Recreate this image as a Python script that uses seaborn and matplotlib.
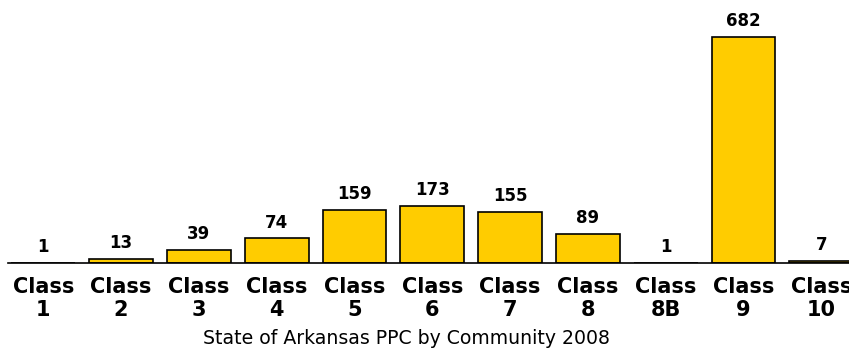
import matplotlib
matplotlib.use("Agg")
import matplotlib.pyplot as plt
import seaborn as sns
import pandas as pd
import numpy as np

categories = ["Class\n1", "Class\n2", "Class\n3", "Class\n4", "Class\n5", "Class\n6",
              "Class\n7", "Class\n8", "Class\n8B", "Class\n9", "Class\n10"]
counts = [1, 13, 39, 74, 159, 173, 155, 89, 1, 682, 7]
title = "State of Arkansas PPC by Community 2008"

df = pd.DataFrame({"cls": categories, "count": counts})

sns.set_style("white")
plt.rcParams["font.family"] = ["DejaVu Sans"]
plt.rcParams["text.color"] = "black"
plt.rcParams["xtick.color"] = "black"

W, H = 849, 348
fig = plt.figure(figsize=(W / 100, H / 100), dpi=100)
# axes runs slightly past the right edge of the canvas
left_px, slot_px, base_px, top_px = 4.4, 77.8, 263, 31
ax = fig.add_axes([left_px / W, 1 - base_px / H, 11 * slot_px / W, (base_px - top_px) / H])

sns.barplot(data=df, x="cls", y="count", color="#FFCC00", edgecolor="black",
            linewidth=1.2, width=0.82, saturation=1, ax=ax)

ax.set_xlim(-0.5, 10.5)
ax.set_ylim(0, 700)
for i, v in enumerate(counts):
    ax.annotate(str(v), (i, v), xytext=(0, 5), textcoords="offset points",
                ha="center", va="bottom", fontsize=12, fontweight="bold")

for s in ["top", "right", "left"]:
    ax.spines[s].set_visible(False)
ax.spines["bottom"].set_bounds(-0.45, 10.5)
ax.spines["bottom"].set_linewidth(1.2)
ax.spines["bottom"].set_color("black")
ax.set_yticks([])
ax.set_xlabel("")
ax.set_ylabel("")
ax.tick_params(axis="x", which="major", length=0, pad=10, labelsize=15, labelcolor="black")
for t in ax.get_xticklabels():
    t.set_fontweight("bold")
    t.set_linespacing(1.2)
ax.set_xticks(np.arange(0.5, 10.5, 1), minor=True)
ax.tick_params(axis="x", which="minor", length=4, width=1, direction="out", color="black")

fig.text(203 / W, 1 - 338 / H, title, ha="left", va="center", fontsize=13.6, color="black")

fig.savefig("out.png", dpi=100)
